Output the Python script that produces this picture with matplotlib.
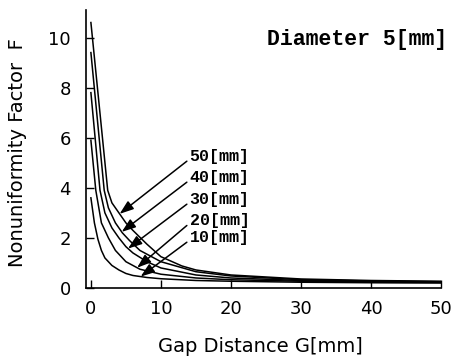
import numpy as np
import matplotlib
matplotlib.use("Agg")
import matplotlib.pyplot as plt

# Data (gap distance G [mm] vs nonuniformity factor F)
gap_10 = [0, 0.5, 1, 1.5, 2, 3, 4, 5, 6, 8, 10, 15, 20, 30, 40, 50]
f_10 = [3.6, 2.6, 1.95, 1.5, 1.2, 0.9, 0.72, 0.58, 0.5, 0.42, 0.37, 0.3, 0.27, 0.23, 0.21, 0.2]

gap_20 = [0, 0.7, 1.5, 2.5, 3.5, 5, 7, 10, 15, 20, 30, 40, 50]
f_20 = [5.9, 3.9, 2.6, 2.0, 1.5, 1.05, 0.75, 0.55, 0.4, 0.33, 0.27, 0.23, 0.22]

gap_30 = [0, 1.3, 2, 3, 4, 5, 6, 8, 10, 15, 20, 30, 40, 50]
f_30 = [7.8, 3.9, 3.0, 2.4, 2.0, 1.65, 1.4, 1.05, 0.8, 0.52, 0.4, 0.3, 0.26, 0.24]

gap_40 = [0, 1.9, 2.5, 3.5, 4.5, 5.5, 7, 10, 15, 20, 30, 40, 50]
f_40 = [9.4, 3.9, 3.2, 2.6, 2.2, 1.9, 1.5, 1.05, 0.65, 0.48, 0.33, 0.28, 0.25]

gap_50 = [0, 2.4, 3, 4, 5, 6, 8, 10, 13, 15, 20, 30, 40, 50]
f_50 = [10.6, 3.9, 3.4, 3.0, 2.6, 2.3, 1.75, 1.25, 0.88, 0.72, 0.52, 0.36, 0.3, 0.27]

series_labels = ["50[mm]", "40[mm]", "30[mm]", "20[mm]", "10[mm]"]
arrow_tip_gap = [4.1, 4.4, 5.3, 6.6, 7.1]

x_ticks = [0, 10, 20, 30, 40, 50]
y_ticks = [0, 2, 4, 6, 8, 10]

fig = plt.figure(figsize=(4.53, 3.57), dpi=100)
ax = fig.add_axes([86 / 453, 1 - 288 / 357, 355 / 453, 278 / 357])

series = [(gap_50, f_50), (gap_40, f_40), (gap_30, f_30), (gap_20, f_20), (gap_10, f_10)]
for g, f in series:
    ax.plot(g, f, color="black", lw=1.1, solid_joinstyle="round")

ax.set_xlim(-0.7, 50)
ax.set_ylim(0, 11.1)
ax.set_xticks(x_ticks)
ax.set_yticks(y_ticks)
ax.spines["top"].set_visible(False)
ax.spines["right"].set_visible(False)
for s in ("left", "bottom"):
    ax.spines[s].set_linewidth(1.2)
ax.tick_params(direction="in", length=6, width=1.0, labelsize=13)
ax.tick_params(axis="y", pad=11)
ax.tick_params(axis="x", pad=9)

ax.set_xlabel("Gap Distance G[mm]", fontsize=14, va="center")
ax.xaxis.set_label_coords(0.49, -0.212)
ax.set_ylabel("Nonuniformity Factor  F", fontsize=14, va="center")
ax.yaxis.set_label_coords(-0.194, 0.487)

fig.text(447 / 453, 1 - 40 / 357, "Diameter 5[mm]", ha="right", va="center",
         fontsize=15.5, family="Liberation Mono", weight="bold")

label_y = [5.24, 4.4, 3.52, 2.68, 2.0]
for (g, f), lab, tg, ly in zip(series, series_labels, arrow_tip_gap, label_y):
    tf = float(np.interp(tg, g, f))
    ax.annotate(lab, xy=(tg, tf), xytext=(14.1, ly), ha="left", va="center",
                fontsize=12, family="Liberation Mono", weight="bold",
                arrowprops=dict(arrowstyle="-|>,head_length=0.7,head_width=0.25",
                                color="black", lw=1.1, shrinkA=0, shrinkB=0,
                                relpos=(0, 0.35)))

fig.savefig("out.png", dpi=100)
